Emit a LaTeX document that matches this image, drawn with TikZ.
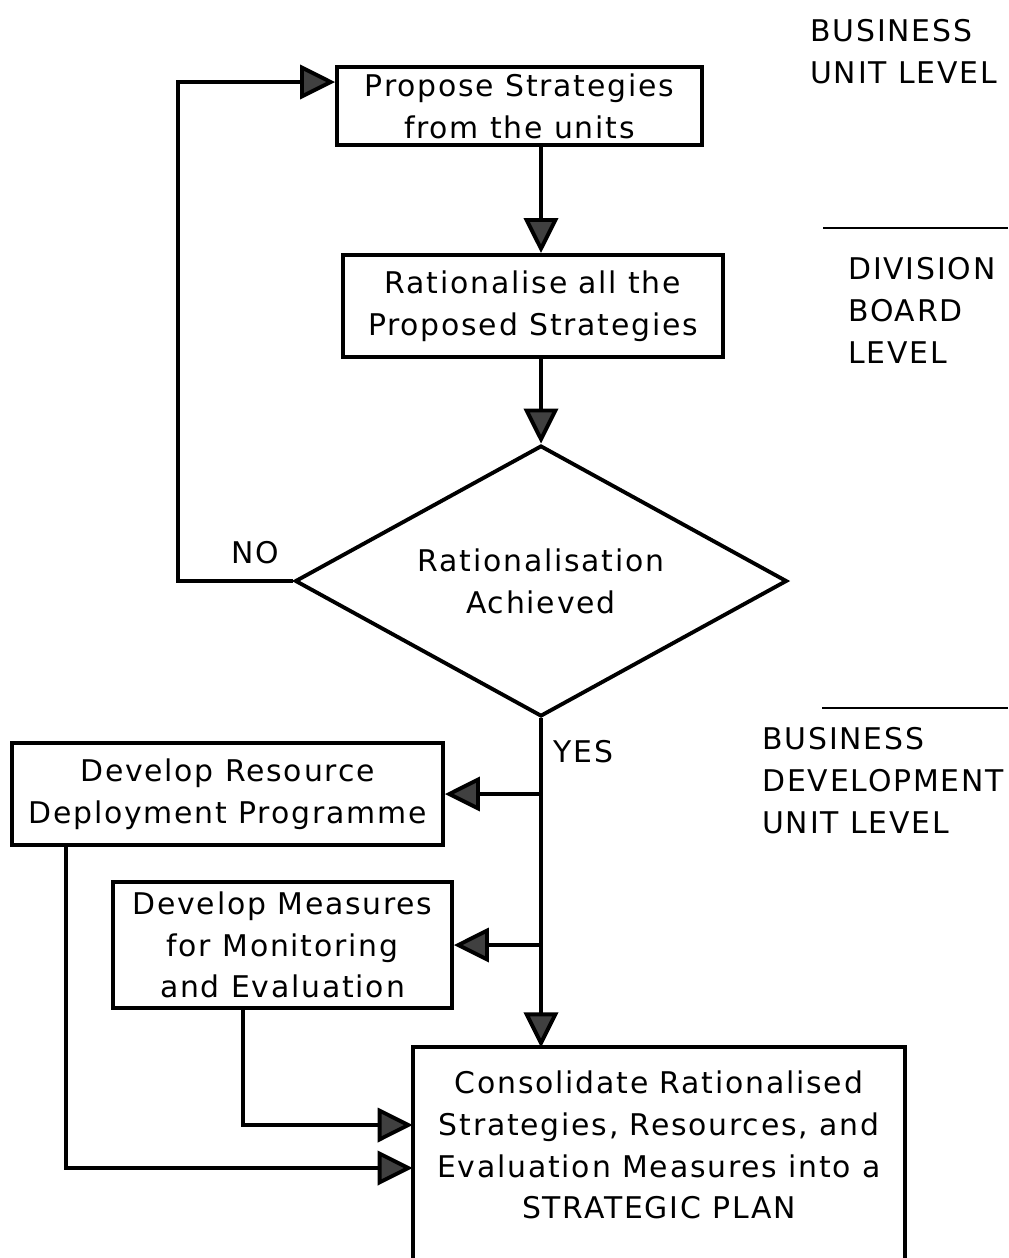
\documentclass[tikz,border=0pt]{standalone}
\usepackage{fontspec}
\setmainfont[LetterSpace=6]{DejaVu Sans}
\usetikzlibrary{positioning,shapes.geometric,arrows.meta}

\begin{document}
\begin{tikzpicture}[x=0.02cm,y=-0.02cm,
        txt/.style={font=\fontsize{17pt}{23.8pt}\selectfont,align=center},
        stepbox/.style={txt,rectangle,draw=black,line width=2.2pt,inner sep=0pt},
        decbox/.style={txt,diamond,draw=black,line width=2.2pt,inner sep=0pt,aspect=1.815,
            minimum width=9.84cm,minimum height=5.42cm},
        level/.style={font=\fontsize{17pt}{23.8pt}\selectfont,align=left,anchor=north west,inner sep=0pt},
        flow/.style={line width=2.2pt,-{Triangle[length=0.7cm,width=0.68cm,fill=black!75]}},
        plain/.style={line width=2.2pt},
        sep/.style={line width=1.3pt}
    ]
    \useasboundingbox (0,0) rectangle (1008,1258);
    \clip (0,0) rectangle (1008,1258);

    %--- boxes ---
    \node[stepbox,minimum width=7.3cm,minimum height=1.56cm] (propose) at (519.5,106)
        {Propose Strategies\\from the units};
    \node[stepbox,minimum width=7.6cm,minimum height=2.04cm] (rational) at (533,306)
        {Rationalise all the\\Proposed Strategies};
    \node[decbox] (dec) at (541,581) {Rationalisation\\Achieved};
    \node[stepbox,minimum width=8.62cm,minimum height=2.04cm] (resource) at (227.5,794)
        {Develop Resource\\Deployment Programme};
    \node[stepbox,minimum width=6.78cm,minimum height=2.52cm] (measures) at (282.5,945)
        {Develop Measures\\for Monitoring\\and Evaluation};
    \node[txt,minimum width=9.84cm,inner sep=0pt] (plan) at (659,1145)
        {Consolidate Rationalised\\Strategies, Resources, and\\Evaluation Measures into a\\STRATEGIC PLAN};
    \coordinate (plantop) at ([yshift=0.46cm]plan.north);
    \draw[plain] ([yshift=-2cm]plan.south west) -- (plan.west |- plantop) -- (plan.east |- plantop)
        -- ([yshift=-2cm]plan.south east);

    %--- levels ---
    \node[level] (bul) at (810,19) {BUSINESS\\UNIT LEVEL};
    \node[level] (dbl) at (848,257) {DIVISION\\BOARD\\LEVEL};
    \node[level] (bdl) at (762,727) {BUSINESS\\DEVELOPMENT\\UNIT LEVEL};
    \draw[sep] (823,228) -- (1008,228);
    \draw[sep] (822,708) -- (1008,708);

    %--- labels ---
    \node[txt,inner sep=0pt] (no) at (255,553) {NO};
    \node[txt,inner sep=0pt,anchor=west] (yes) at (553,752) {YES};

    %--- connectors ---
    \coordinate (loop) at (178,581);
    \draw[flow] (dec.north |- propose.south) -- (dec.north |- rational.north);
    \draw[flow] (dec.north |- rational.south) -- (dec.north);
    \draw[flow] (dec.west) -- (loop) |- ([yshift=0.48cm]propose.west);
    \draw[flow] (dec.south) -- (dec.south |- plantop);
    \draw[flow] (dec.south |- resource.east) -- (resource.east);
    \draw[flow] (dec.south |- measures.east) -- (measures.east);
    \draw[flow] ([xshift=-0.79cm]measures.south) |- ([yshift=0.4cm]plan.west);
    \draw[flow] ([xshift=-3.23cm]resource.south) |- ([yshift=-0.46cm]plan.west);
\end{tikzpicture}
\end{document}
